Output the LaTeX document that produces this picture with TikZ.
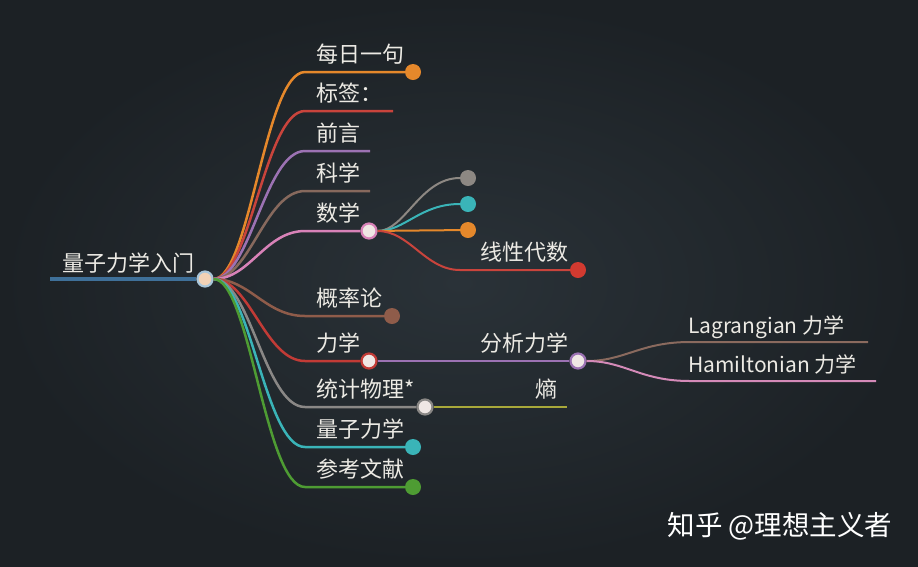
\documentclass[tikz,border=0pt]{standalone}
\usepackage{fontspec}
\setmainfont{Noto Sans CJK SC}
\definecolor{bgin}{HTML}{2A3238}
\definecolor{bgout}{HTML}{1C2125}
\definecolor{txt}{HTML}{ECEAE4}
\definecolor{rootblue}{HTML}{3F7099}
\definecolor{rootring}{HTML}{A9C6DA}
\definecolor{hubfill}{HTML}{EFE7E4}
\definecolor{corange}{HTML}{E5882B}
\definecolor{cred}{HTML}{C9443C}
\definecolor{cpurple}{HTML}{9C72B3}
\definecolor{cbrown}{HTML}{87695D}
\definecolor{cpink}{HTML}{D882B8}
\definecolor{cgray}{HTML}{8D8883}
\definecolor{ccyan}{HTML}{3AB4B8}
\definecolor{cred2}{HTML}{D23A30}
\definecolor{cbrown2}{HTML}{8F5C4A}
\definecolor{cred3}{HTML}{C23B36}
\definecolor{cgray2}{HTML}{8A8886}
\definecolor{colive}{HTML}{A8A83A}
\definecolor{cgreen}{HTML}{4E9C33}
\definecolor{clag}{HTML}{8A6A5E}
\definecolor{cham}{HTML}{D48AB8}
\tikzset{
  branch/.style={line width=2.5pt},
  twig/.style={line width=2pt},
  lbl/.style={anchor=base west,inner sep=0pt,text=txt,font=\fontsize{22}{26}\selectfont},
  dot/.style={circle,fill=#1,minimum size=16pt,inner sep=0pt},
  hub/.style={circle,draw=#1,fill=hubfill,line width=2.2pt,minimum size=15pt,inner sep=0pt}
}
\begin{document}
\begin{tikzpicture}[x=1pt,y=-1pt]
\shade[inner color=bgin,outer color=bgout] (0,0) rectangle (918,566);
% root
\node[hub=rootring,fill=hubfill!80!orange] (r) at (205,279) {};
\coordinate (r0) at (50,279);
\draw[rootblue,line width=4pt] (r0) -- (r);
\node[lbl] (tr) at (62,271) {量子力学入门};
% ends of the first level
\node[dot=corange] (d1) at (413,72) {};
\coordinate (d2) at (393,111);
\coordinate (d3) at (370,151);
\coordinate (d4) at (370,191);
\node[hub=cpink] (d5) at (369,231) {};
\node[dot=cbrown2] (d6) at (392,316) {};
\node[hub=cred3] (d7) at (369,361) {};
\node[hub=cgray2] (d8) at (425,407) {};
\node[dot=ccyan] (d9) at (413,447) {};
\node[dot=cgreen] (d10) at (413,487) {};
\foreach \i/\y/\c/\t in {1/72/corange/每日一句, 2/111/cred/标签：, 3/151/cpurple/前言, 4/191/cbrown/科学, 5/231/cpink/数学, 6/316/cbrown2/概率论, 7/361/cred3/力学, 8/407/cgray2/统计物理*, 9/447/ccyan/量子力学, 10/487/cgreen/参考文献}
{
  \draw[branch,\c] (r) .. controls (250,279) and (265,\y) .. (305,\y) -- (d\i);
  \node[lbl] (t\i) at (316,\y-10) {\t};
}
% 数学
\node[dot=cgray] (m1) at (468,178) {};
\node[dot=ccyan] (m2) at (468,204) {};
\node[dot=corange] (m3) at (468,230) {};
\node[dot=cred2] (m4) at (578,270) {};
\draw[twig,cgray] (d5) .. controls (405,231) and (420,178) .. (m1);
\draw[twig,ccyan] (d5) .. controls (405,231) and (420,204) .. (m2);
\draw[twig,corange] (d5) -- (m3);
\draw[twig,cred] (d5) .. controls (410,231) and (425,270) .. (460,270) -- (m4);
\node[lbl] (m4t) at (480,260) {线性代数};
% 力学
\node[hub=cpurple] (a1) at (578,361) {};
\draw[twig,cpurple] (d7) -- (a1);
\node[lbl] (a1t) at (480,351) {分析力学};
\coordinate (a2) at (868,342);
\coordinate (a3) at (876,381);
\draw[twig,clag] (a1) .. controls (625,361) and (640,342) .. (690,342) -- (a2);
\draw[twig,cham] (a1) .. controls (625,361) and (640,381) .. (690,381) -- (a3);
\node[lbl,font=\fontsize{21}{25}\selectfont] (a2t) at (688,333) {Lagrangian 力学};
\node[lbl,font=\fontsize{21}{25}\selectfont] (a3t) at (688,372) {Hamiltonian 力学};
% 统计物理
\coordinate (s1) at (567,407);
\draw[twig,colive] (d8) -- (s1);
\node[lbl] (s1t) at (535,397) {熵};
% watermark
\node[text=white,font=\fontsize{27.5}{32}\selectfont,inner sep=0pt] (wm) at (780,526) {知乎 @理想主义者};
\end{tikzpicture}
\end{document}
